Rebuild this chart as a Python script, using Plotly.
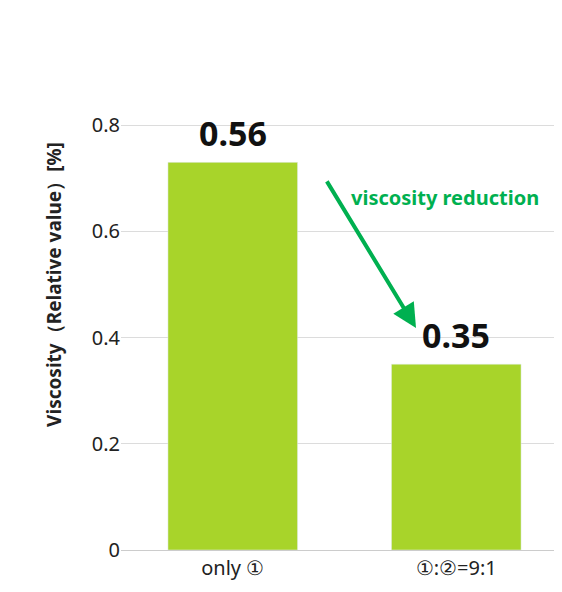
import plotly.graph_objects as go

categories = ["only ①", "①:②=9:1"]
values = [0.73, 0.35]
labels = ["0.56", "0.35"]
yticks = [0, 0.2, 0.4, 0.6, 0.8, 1.0]
yticklabels = ["0", "0.2", "0.4", "0.6", "0.8", "1.0"]

fig = go.Figure(go.Bar(x=[0, 1], y=values, marker_color="#a8d42a", width=0.58))
for i, (v, t) in enumerate(zip(values, labels)):
    fig.add_annotation(x=i, y=v, yanchor="bottom", yshift=4, showarrow=False, text=t,
                       font=dict(size=34, color="#111", family="Noto Sans", weight="bold"))
fig.update_layout(
    width=562, height=592, margin=dict(l=113, r=2, t=11, b=50),
    plot_bgcolor="white", paper_bgcolor="white",
    font=dict(family="Noto Sans", color="#222"), showlegend=False,
    xaxis=dict(range=[-0.5, 1.5], tickvals=[0, 1], ticktext=categories,
               tickfont=dict(size=20), showline=True, linecolor="#ccc"),
    yaxis=dict(range=[0, 1.0], tickvals=yticks, ticktext=yticklabels,
               tickfont=dict(size=20), gridcolor="#dcdcdc", zeroline=False,
               title=dict(text="Viscosity（Relative value）[%]", standoff=25,
                          font=dict(size=19, weight="bold"))),
)
fig.add_annotation(x=0.82, y=0.418, ax=0.417, ay=0.697, xref="x", yref="y", axref="x", ayref="y",
                   showarrow=True, arrowhead=2, arrowsize=1.2, arrowwidth=4, arrowcolor="#00b050",
                   text="")
fig.add_annotation(x=0.52, y=0.663, xref="x", yref="y", xanchor="left", showarrow=False,
                   text="viscosity reduction",
                   font=dict(size=20, color="#00b050", weight="bold"))
fig.write_html("out.html")
